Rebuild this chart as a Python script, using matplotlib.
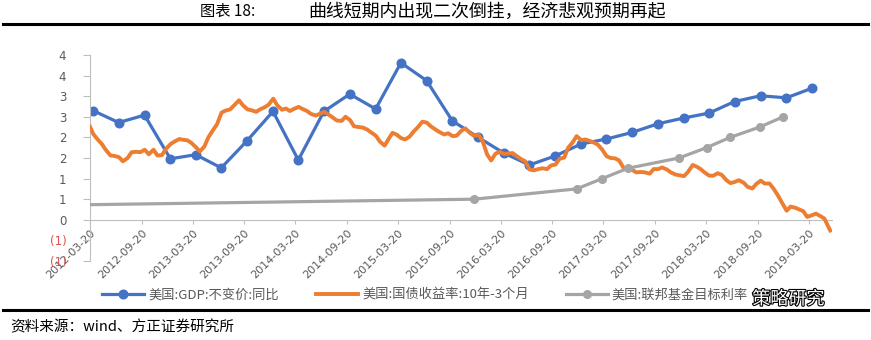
import matplotlib
matplotlib.use("Agg")
import matplotlib.pyplot as plt
import matplotlib.patheffects as pe
import pandas as pd

plt.rcParams['font.family'] = ['Noto Sans CJK SC', 'DejaVu Sans']

# GDP yoy, quarterly 2012Q1 - 2019Q1
gdp_values = [2.65, 2.36, 2.54, 1.48, 1.58, 1.26, 1.92, 2.63, 1.45, 2.63, 3.05, 2.69,
              3.81, 3.38, 2.40, 2.00, 1.62, 1.33, 1.55, 1.84, 1.96, 2.12, 2.33, 2.47,
              2.59, 2.87, 3.01, 2.96, 3.19]
gdp_dates = pd.period_range('2012Q1', '2019Q1', freq='Q').to_timestamp(how='end').normalize()

# 10y - 3m treasury spread, semi-monthly readings
spread_2012 = [2.26, 2.08, 1.96, 1.84, 1.70, 1.56, 1.55, 1.52, 1.42, 1.50, 1.64, 1.65,
               1.64, 1.70, 1.59, 1.70, 1.56, 1.57, 1.72]
spread_2013 = [1.84, 1.90, 1.96, 1.94, 1.93, 1.87, 1.76, 1.66, 1.78, 2.00, 2.18, 2.32,
               2.60, 2.65, 2.68, 2.78, 2.90, 2.78, 2.68, 2.66, 2.62, 2.68, 2.73, 2.79]
spread_2014 = [2.94, 2.78, 2.67, 2.70, 2.64, 2.69, 2.74, 2.69, 2.64, 2.57, 2.53, 2.57,
               2.62, 2.56, 2.48, 2.41, 2.40, 2.50, 2.42, 2.27, 2.25, 2.24, 2.19, 2.12]
spread_2015 = [2.04, 1.90, 1.80, 1.96, 2.11, 2.07, 1.98, 1.95, 2.02, 2.14, 2.26, 2.38,
               2.36, 2.27, 2.19, 2.13, 2.07, 2.10, 2.03, 2.04, 2.16, 2.22, 2.11, 2.04]
spread_2016 = [2.06, 1.92, 1.58, 1.44, 1.60, 1.65, 1.60, 1.61, 1.62, 1.55, 1.47, 1.42,
               1.22, 1.20, 1.23, 1.25, 1.23, 1.32, 1.34, 1.48, 1.51, 1.75, 1.88, 2.03]
spread_2017 = [1.93, 1.95, 1.91, 1.87, 1.82, 1.71, 1.54, 1.50, 1.49, 1.44, 1.25, 1.24,
               1.21, 1.15, 1.16, 1.15, 1.12, 1.23, 1.23, 1.27, 1.22, 1.15, 1.10, 1.08]
spread_2018 = [1.06, 1.16, 1.33, 1.29, 1.23, 1.15, 1.07, 1.07, 1.13, 1.09, 0.96, 0.89,
               0.92, 0.96, 0.90, 0.80, 0.76, 0.87, 0.95, 0.88, 0.88, 0.76, 0.59, 0.42]
spread_2019 = [0.22, 0.32, 0.29, 0.25, 0.21, 0.07, 0.11, 0.15, 0.09, 0.03, -0.20, -0.26]
spread_values = (spread_2012 + spread_2013 + spread_2014 + spread_2015 +
                 spread_2016 + spread_2017 + spread_2018 + spread_2019)
spread_dates = ([pd.Timestamp('2012-03-20')]
                + list(pd.date_range('2012-04-01', '2019-06-01', freq='SMS'))
                + [pd.Timestamp('2019-06-05')])

# fed funds target rate at each change
fed_dates = pd.to_datetime(['2008-12-16', '2015-12-17', '2016-12-15', '2017-03-16',
                            '2017-06-15', '2017-12-14', '2018-03-22', '2018-06-14',
                            '2018-09-27', '2018-12-20'])
fed_values = [0.25, 0.50, 0.75, 1.00, 1.25, 1.50, 1.75, 2.00, 2.25, 2.50]

x_labels = ['2012-03-20', '2012-09-20', '2013-03-20', '2013-09-20', '2014-03-20',
            '2014-09-20', '2015-03-20', '2015-09-20', '2016-03-20', '2016-09-20',
            '2017-03-20', '2017-09-20', '2018-03-20', '2018-09-20', '2019-03-20']
y_ticks = [-1.0, -0.5, 0.0, 0.5, 1.0, 1.5, 2.0, 2.5, 3.0, 3.5, 4.0]
y_labels = ['(1)', '(1)', '0', '1', '1', '2', '2', '3', '3', '4', '4']

legend_names = ['美国:GDP:不变价:同比', '美国:国债收益率:10年-3个月', '美国:联邦基金目标利率']

blue = '#4472C4'
orange = '#ED7D31'
grey = '#A5A5A5'
axis_grey = '#BFBFBF'
text_grey = '#595959'

fig = plt.figure(figsize=(8.71, 3.4), dpi=100)
ax = fig.add_axes([0.1033, 0.2324, 0.8515, 0.6059])

ax.plot(gdp_dates, gdp_values, color=blue, lw=2.3, marker='o', ms=6.2,
        label=legend_names[0], zorder=2)
ax.plot(spread_dates, spread_values, color=orange, lw=2.8, label=legend_names[1],
        solid_joinstyle='round', zorder=3)
ax.plot(fed_dates, fed_values, color=grey, lw=2.3, marker='o', ms=5.5,
        label=legend_names[2], zorder=4)

# spine at zero has to be placed before tick labels are styled
ax.spines['top'].set_visible(False)
ax.spines['right'].set_visible(False)
ax.spines['left'].set_color(axis_grey)
ax.spines['bottom'].set_color(axis_grey)
ax.spines['bottom'].set_position(('data', 0))

ax.set_xlim(pd.Timestamp('2012-03-20'), pd.Timestamp('2019-06-10'))
ax.set_ylim(-1, 4)

ax.set_xticks(pd.to_datetime(x_labels))
ax.set_xticklabels(x_labels, rotation=45, ha='right', va='top',
                   rotation_mode='anchor', fontsize=8, color=text_grey,
                   family='DejaVu Sans')
ax.set_yticks(y_ticks)
ax.set_yticklabels(y_labels, fontsize=8.5, color=text_grey, family='DejaVu Sans')
for lab, v in zip(ax.get_yticklabels(), y_ticks):
    if v < 0:
        lab.set_color('#D9534F')

ax.tick_params(axis='y', length=5, color=axis_grey, pad=12)
ax.tick_params(axis='x', length=3, color=axis_grey, pad=3)

leg = fig.legend(loc='center', bbox_to_anchor=(0.488, 0.132), ncol=3, frameon=False,
                 fontsize=9.5, handlelength=3.2, columnspacing=2.8, handletextpad=0.3)
for t in leg.get_texts():
    t.set_color(text_grey)

# header and footer
fig.text(0.230, 0.965, '图表 18:', fontsize=11, va='center', ha='left')
fig.text(0.354, 0.965, '曲线短期内出现二次倒挂，经济悲观预期再起', fontsize=12.9,
         va='center', ha='left')
fig.add_artist(plt.Line2D([0.004, 0.996], [0.928, 0.928], color='black', lw=2.2))
fig.add_artist(plt.Line2D([0.004, 0.996], [0.088, 0.088], color='black', lw=2.2))
fig.text(0.012, 0.038, '资料来源：wind、方正证券研究所', fontsize=10.5, va='center',
         ha='left', style='italic')

wm = fig.text(0.905, 0.12, '策略研究', fontsize=13, va='center', ha='center',
              color='white')
wm.set_path_effects([pe.withStroke(linewidth=1.6, foreground='black')])

fig.savefig('out.png', dpi=100)
